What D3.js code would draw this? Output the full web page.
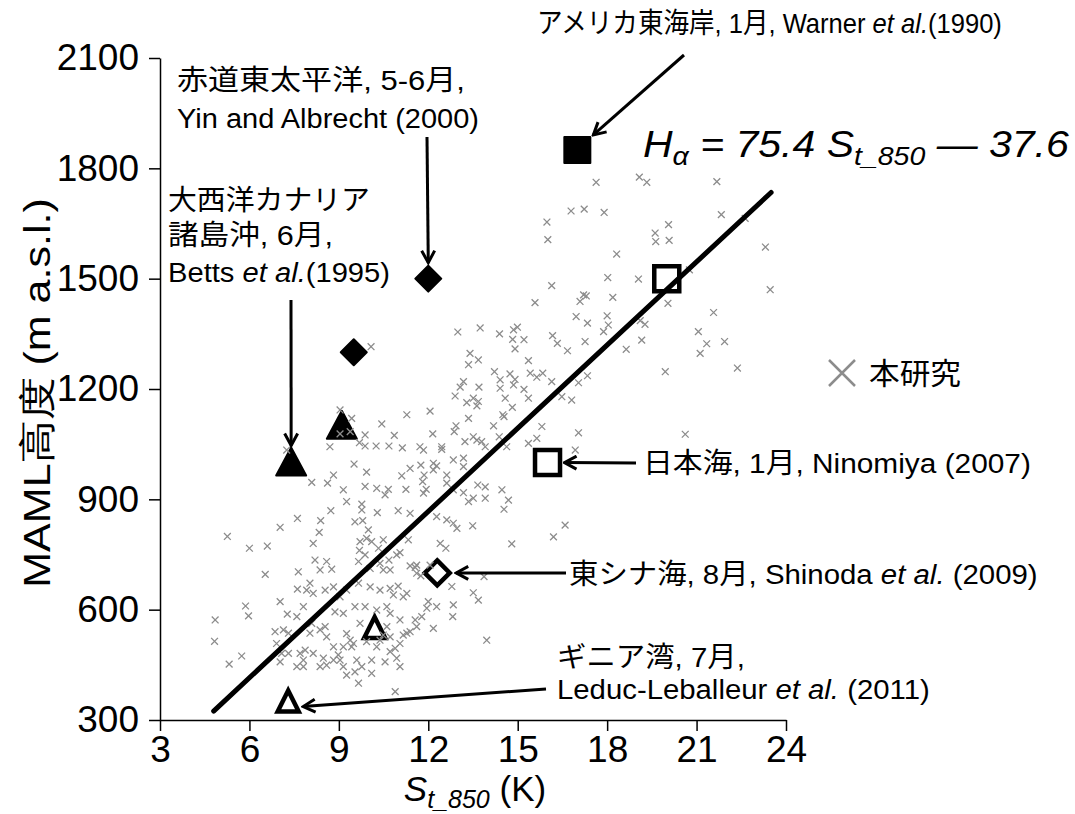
<!DOCTYPE html>
<html>
<head>
<meta charset="utf-8">
<script src="https://cdn.jsdelivr.net/npm/d3@7"></script>
<style>
  body { margin: 0; background: #fff; }
</style>
</head>
<body>
<svg id="chart" width="1075" height="814"></svg>
<script>
// axis ticks
const xTicks = [3, 6, 9, 12, 15, 18, 21, 24];
const yTicks = [300, 600, 900, 1200, 1500, 1800, 2100];

// regression  H = 75.4 S - 37.6
const fitSlope = 75.4;
const fitIntercept = -37.6;
const fitRange = [4.8, 23.5];

// earlier studies (marker at S_t_850, MAML height)
const refX = [17, 12, 9.5, 9.1, 7.4, 20, 16, 12.3, 10.2, 7.3];
const refY = [1850, 1500, 1300, 1100, 1000, 1500, 1000, 700, 550, 350];
const refShape = ['square', 'diamond', 'diamond', 'triangle', 'triangle', 'square', 'square', 'diamond', 'triangle', 'triangle'];
const refFilled = [true, true, true, true, true, false, false, false, false, false];

// this study: [S_t_850 (K), MAML height (m)]
const studyPoints = [
  [7.25,1034],[5.26,799],[6.0,767],[6.6,773],[7.03,824],[7.61,848],[6.53,696],[7.64,703],[7.61,656],[7.03,622],
  [5.87,610],[5.97,583],[4.85,572],[4.83,514],[7.27,588],[7.59,581],[6.86,540],[7.14,545],[7.31,536],[6.91,508],
  [7.08,481],[7.03,458],[7.31,481],[7.7,481],[7.59,445],[7.81,445],[5.74,474],[5.32,452],
  [15.58,1435],[12.99,1355],[13.74,1366],[14.39,1350],[14.86,1361],[14.99,1368],[14.83,1335],[15.21,1334],[14.91,1309],[10.08,1315],
  [13.40,1297],[13.68,1279],[13.35,1266],[15.36,1277],[14.22,1247],[14.41,1225],[14.74,1241],[14.91,1226],[15.42,1243],[15.64,1232],
  [15.84,1243],[13.18,1220],[13.07,1205],[13.7,1205],[12.90,1181],[14.41,1202],[14.86,1211],[15.21,1199],[14.58,1175],[15.36,1175],
  [13.29,1163],[13.51,1175],[13.68,1166],[13.63,1154],[14.82,1150],[14.5,1130],[14.54,1125],[11.28,1130],[12.06,1140],[10.44,1105],
  [9.43,1120],[9.04,1143],[9.04,1078],[9.38,1084],[10.86,1074],[9.88,1075],[8.70,1043],[9.69,1054],[9.88,1045],[10.25,1045],
  [10.68,1045],[11.13,1040],[11.72,1043],[11.84,1034],[12.15,1078],[12.45,1043],[12.45,1036],[12.93,1100],[12.87,1084],[13.35,1120],
  [14.19,1100],[14.38,1070],[13.23,1057],[13.51,1070],[13.63,1061],[13.79,1057],[13.91,1043],[14.63,1043],[15.36,1052],[15.64,1066],
  [15.81,1098],[9.51,996],[9.93,974],[8.82,966],[11.11,964],[11.39,984],[11.75,993],[11.86,966],[11.81,948],[12.17,998],
  [12.28,991],[12.17,980],[12.62,966],[12.84,1007],[13.18,1012],[13.18,989],[13.91,934],
  [8.09,946],[8.62,944],[9.15,926],[9.88,935],[10.27,930],[10.55,912],[10.66,927],[11.25,927],[11.84,917],[11.93,927],
  [12.62,944],[12.84,926],[13.18,918],[13.35,894],[13.51,903],[13.66,939],[13.91,903],[14.47,926],[14.69,898],[14.54,873],
  [9.26,894],[9.77,887],[8.73,869],[9.77,871],[10.29,864],[10.99,869],[11.39,862],[9.54,839],[9.8,842],[8.39,842],
  [9.99,817],[8.34,810],[8.14,780],[9.71,785],[9.93,794],[10.1,785],[10.49,790],[10.33,767],[9.69,761],[9.88,749],
  [12.28,853],[12.62,844],[12.84,835],[12.96,821],[13.49,828],[12.4,780],[12.59,767],[11.33,790],[11.05,755],[10.94,749],
  [10.68,735],[10.38,726],[8.2,735],[8.59,731],[8.37,708],[8.76,710],[9.66,731],[10.05,712],[10.49,708],[10.72,708],
  [11.39,719],[11.61,721],[11.75,692],[14.8,779],[13.87,690],[12.79,663],[13.51,646],[13.68,626],[12.84,613],[12.82,581],
  [13.96,517],[12.17,549],[12.28,608],[12.0,622],[11.95,604],[11.78,581],[11.61,554],[11.39,540],[11.16,531],[11.05,508],
  [10.89,495],[10.94,468],[11.05,445],[10.89,377],[10.72,486],[10.55,458],[10.38,517],[9.93,513],[10.1,427],[9.66,400],
  [9.54,431],[9.26,422],[9.15,445],[9.04,463],[8.82,499],[8.59,526],[8.37,545],[8.03,536],[7.87,490],[8.14,481],
  [8.48,468],[7.81,463],[8.82,463],[9.38,517],[9.49,508],[9.43,499],[9.26,535],[9.71,563],[9.88,608],[9.54,608],
  [9.15,590],[8.87,594],[8.54,554],[8.09,563],[7.92,653],[8.14,644],[8.03,672],[8.54,653],[8.82,662],[9.04,635],
  [9.26,653],[9.66,672],[10.05,662],[10.38,653],[10.72,658],[10.83,640],[10.99,664],[11.16,635],[11.28,644],[10.61,608],
  [10.27,599],[10.72,590],[11.05,572],[11.28,536],[11.56,572],[7.81,608],[12.06,721],[11.56,715],[11.61,699],[10.49,531],
  [10.72,526],[10.1,463],[9.77,445],[9.6,463],[10.27,499],[10.61,554],[9.15,499],[8.98,477],[8.37,445],[8.59,449],
  [17.63,1762],[19.08,1776],[19.33,1762],[21.68,1764],[15.98,1654],[16.01,1606],[16.79,1684],[17.23,1689],[17.9,1680],[20.06,1647],
  [19.61,1624],[19.63,1601],[20.08,1604],[21.83,1674],[22.63,1664],[23.31,1586],[23.47,1470],[18.32,1567],[18.02,1503],[19.05,1499],
  [16.14,1481],[17.09,1438],[17.3,1453],[17.21,1456],[18.19,1449],[20.04,1433],[21.57,1408],[16.96,1397],[17.34,1379],[18.0,1399],
  [18.04,1374],[17.88,1356],[19.11,1386],[19.27,1376],[19.16,1333],[21.06,1356],[21.34,1323],[21.94,1329],[21.12,1297],[18.64,1308],
  [17.26,1329],[16.67,1304],[16.17,1345],[16.33,1324],[20.76,1524],
  [19.95,1247],[22.37,1257],[17.34,1236],[17.04,1217],[16.81,1170],[16.48,1179],[16.14,1220],[20.62,1077],[17.04,1081],[16.93,1034],
  [16.59,830],[16.2,798]
];

const svg = d3.select('#chart');
const x = d3.scaleLinear().domain([3, 24]).range([160, 786]);
const y = d3.scaleLinear().domain([300, 2100]).range([720, 58]);

const axisFont = 'Liberation Sans, Arial, sans-serif';
const noteFont = 'Liberation Sans, Noto Sans CJK JP, sans-serif';

// arrow head (open chevron)
svg.append('defs').append('marker')
  .attr('id', 'arrow')
  .attr('viewBox', '0 0 16 16')
  .attr('refX', 14).attr('refY', 8)
  .attr('markerWidth', 16).attr('markerHeight', 16)
  .attr('markerUnits', 'userSpaceOnUse')
  .attr('orient', 'auto')
  .append('path')
  .attr('d', 'M2,1.5L14,8L2,14.5')
  .attr('fill', 'none').attr('stroke', '#000').attr('stroke-width', 3);

// axes
const xAxis = svg.append('g')
  .attr('transform', 'translate(0,720)')
  .call(d3.axisBottom(x).tickValues(xTicks).tickFormat(d3.format('d'))
    .tickSize(11).tickSizeOuter(0).tickPadding(5));
const yAxis = svg.append('g')
  .attr('transform', 'translate(160,0)')
  .call(d3.axisLeft(y).tickValues(yTicks).tickFormat(d3.format('d'))
    .tickSize(11).tickSizeOuter(0).tickPadding(10));
[xAxis, yAxis].forEach(ax => {
  ax.attr('font-family', axisFont).attr('font-size', 37);
  ax.selectAll('path, line').attr('stroke', '#000').attr('stroke-width', 1.5);
  ax.selectAll('text').attr('fill', '#000');
});

// marker shapes
function shapePath(shape, filled) {
  if (shape === 'square') return filled ? 'M-13,-13H13V13H-13Z' : 'M-12.5,-12.5H12.5V12.5H-12.5Z';
  if (shape === 'diamond') return filled ? 'M0,-13L13,0L0,13L-13,0Z' : 'M0,-12.5L12.5,0L0,12.5L-12.5,0Z';
  return filled ? 'M0,-15L15,13L-15,13Z' : 'M0,-11L10.5,10L-10.5,10Z';
}

svg.append('g').selectAll('path')
  .data(refX.map((d, i) => i))
  .enter().append('path')
  .attr('transform', i => `translate(${x(refX[i])},${y(refY[i])})`)
  .attr('d', i => shapePath(refShape[i], refFilled[i]))
  .attr('fill', i => refFilled[i] ? '#000' : 'none')
  .attr('stroke', '#000')
  .attr('stroke-width', i => refFilled[i] ? 2 : 4.5)
  .attr('stroke-linejoin', i => refFilled[i] ? 'round' : 'miter');

// this study points
svg.append('g').selectAll('path')
  .data(studyPoints)
  .enter().append('path')
  .attr('transform', d => `translate(${x(d[0])},${y(d[1])})`)
  .attr('d', 'M-3.4,-3.4L3.4,3.4M-3.4,3.4L3.4,-3.4')
  .attr('stroke', '#8c8c8c')
  .attr('stroke-width', 1.3)
  .attr('fill', 'none');

// regression line
svg.append('line')
  .attr('x1', x(fitRange[0])).attr('y1', y(fitSlope * fitRange[0] + fitIntercept))
  .attr('x2', x(fitRange[1])).attr('y2', y(fitSlope * fitRange[1] + fitIntercept))
  .attr('stroke', '#000').attr('stroke-width', 5).attr('stroke-linecap', 'round');

// arrows from labels to markers
const arrows = [
  [684, 55, x(17) + 16, y(1850) - 15],
  [427, 137, x(12), y(1500) - 16],
  [291, 300, x(7.4), y(1000) - 17],
  [636, 463, x(16) + 17, y(1000)],
  [566, 573, x(12.3) + 19, y(700)],
  [546, 689, x(7.3) + 15, y(350) + 5]
];
svg.append('g').selectAll('line')
  .data(arrows)
  .enter().append('line')
  .attr('x1', d => d[0]).attr('y1', d => d[1])
  .attr('x2', d => d[2]).attr('y2', d => d[3])
  .attr('stroke', '#000').attr('stroke-width', 3)
  .attr('marker-end', 'url(#arrow)');

// text helper: draws parts, then fits to the wanted width
function label(x0, base, width, parts, size) {
  const g = svg.append('g').attr('transform', `translate(${x0},${base})`);
  const t = g.append('text').attr('font-family', noteFont).attr('font-size', size || 28).attr('fill', '#000');
  parts.forEach(p => {
    t.append('tspan').text(p[0]).attr('font-style', p[1] ? 'italic' : 'normal');
  });
  if (width) {
    const w = t.node().getBBox().width;
    t.attr('transform', `scale(${width / w},1)`);
  }
  return t;
}

label(537, 33, 465, [['アメリカ東海岸, 1月, Warner ', 0], ['et al.', 1], ['(1990)', 0]]);
label(177, 90, 288, [['赤道東太平洋, 5-6月,', 0]]);
label(177, 128, 302, [['Yin and Albrecht (2000)', 0]]);
label(168, 210, 202, [['大西洋カナリア', 0]]);
label(168, 245, 165, [['諸島沖, 6月,', 0]]);
label(168, 282, 222, [['Betts ', 0], ['et al.', 1], ['(1995)', 0]]);
label(643, 473, 388, [['日本海, 1月, Ninomiya (2007)', 0]]);
label(569, 584, 469, [['東シナ海, 8月, Shinoda ', 0], ['et al.', 1], [' (2009)', 0]]);
label(557, 667, 188, [['ギニア湾, 7月,', 0]]);
label(557, 699, 373, [['Leduc-Leballeur ', 0], ['et al.', 1], [' (2011)', 0]]);

// legend
svg.append('path')
  .attr('transform', 'translate(842,373)')
  .attr('d', 'M-13,-13L13,13M-13,13L13,-13')
  .attr('stroke', '#8c8c8c').attr('stroke-width', 2.5).attr('fill', 'none');
label(869, 384, 92, [['本研究', 0]], 30);

// regression equation
const eq = svg.append('g').attr('transform', 'translate(643,157)')
  .append('text')
  .attr('font-family', axisFont).attr('font-style', 'italic').attr('font-size', 36).attr('fill', '#000');
eq.append('tspan').text('H');
eq.append('tspan').text('α').attr('font-size', 25).attr('dy', 8);
eq.append('tspan').text(' = 75.4 S').attr('dy', -8);
eq.append('tspan').text('t_850').attr('font-size', 25).attr('dy', 8);
eq.append('tspan').text(' \u2014 37.6').attr('dy', -8);
eq.attr('transform', `scale(${427 / eq.node().getBBox().width},1)`);

// axis titles
const xt = svg.append('text')
  .attr('x', 475).attr('y', 801)
  .attr('text-anchor', 'middle')
  .attr('font-family', axisFont).attr('font-size', 35).attr('fill', '#000');
xt.append('tspan').text('S').attr('font-style', 'italic');
xt.append('tspan').text('t_850').attr('font-style', 'italic').attr('font-size', 25).attr('dy', 7);
xt.append('tspan').text(' (K)').attr('dy', -7);

const yt = svg.append('g').attr('transform', 'translate(50,393) rotate(-90)')
  .append('text')
  .attr('text-anchor', 'middle')
  .attr('font-family', axisFont).attr('font-size', 37).attr('fill', '#000')
  .text('MAML高度 (m a.s.l.)');
yt.attr('transform', `scale(${390 / yt.node().getBBox().width},1)`);
</script>
</body>
</html>
